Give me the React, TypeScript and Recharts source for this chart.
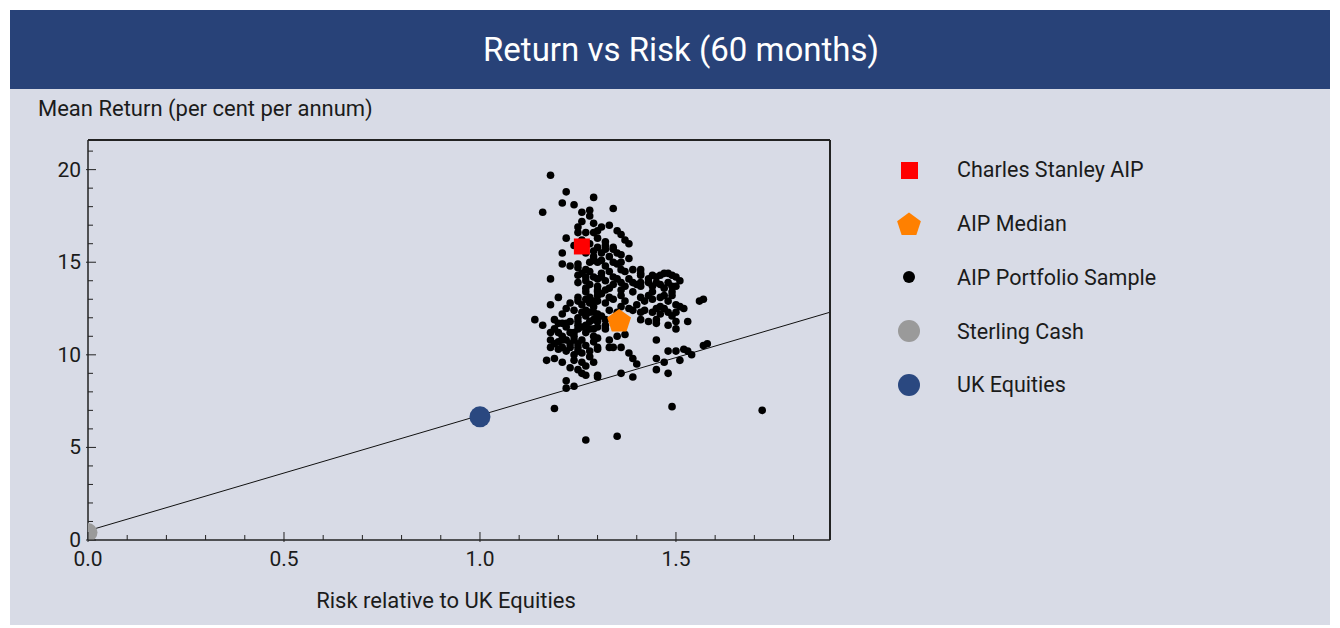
import {
  Legend,
  ReferenceLine,
  Scatter,
  ScatterChart,
  XAxis,
  YAxis,
} from "recharts";

// risk relative to UK equities, mean return (% p.a.)
type Pt = [number, number];

const sampleUpper: Pt[] = [
  [1.18, 19.7], [1.22, 18.8], [1.21, 18.2], [1.24, 18.1], [1.16, 17.7], [1.29, 18.5], [1.34, 17.9],
  [1.26, 17.7], [1.28, 17.8], [1.26, 17.2], [1.28, 17.5], [1.29, 17.1], [1.33, 17.0], [1.31, 16.9],
  [1.25, 16.9], [1.25, 16.6], [1.35, 16.7], [1.36, 16.5], [1.22, 16.3], [1.30, 16.3], [1.32, 16.1],
  [1.37, 16.2], [1.38, 16.0], [1.24, 15.9], [1.21, 15.5], [1.27, 16.6], [1.29, 16.6], [1.30, 16.7],
  [1.30, 15.8], [1.32, 15.7], [1.34, 15.7], [1.35, 15.5], [1.32, 15.9], [1.34, 15.8],
  [1.29, 15.3], [1.31, 15.1], [1.33, 15.3], [1.36, 15.4], [1.38, 15.2], [1.34, 15.0], [1.36, 15.0],
  [1.29, 15.1], [1.30, 15.0], [1.32, 14.8], [1.35, 14.9], [1.36, 14.6], [1.37, 14.5],
  [1.23, 14.8], [1.25, 14.7], [1.28, 14.5], [1.25, 14.9], [1.21, 14.9],
  [1.39, 14.6], [1.41, 14.6], [1.41, 14.4], [1.18, 14.1],
  [1.25, 14.3], [1.27, 14.2], [1.29, 14.2], [1.27, 14.0], [1.30, 14.1], [1.31, 14.2], [1.34, 14.2],
  [1.35, 14.1], [1.38, 14.1], [1.41, 14.3], [1.43, 14.1], [1.45, 14.2], [1.47, 14.4], [1.48, 14.4],
  [1.50, 14.2], [1.49, 14.3], [1.51, 14.0],
  [1.26, 16.2], [1.27, 15.5], [1.28, 15.0], [1.27, 14.6], [1.26, 14.4], [1.28, 16.0], [1.29, 15.6],
  [1.31, 15.5], [1.33, 14.5], [1.31, 14.4], [1.32, 14.0], [1.46, 14.3], [1.44, 14.3],
];

const sampleMiddle: Pt[] = [
  [1.45, 13.9], [1.46, 13.8], [1.48, 13.9], [1.49, 13.7], [1.40, 13.8], [1.41, 13.7], [1.41, 13.9],
  [1.25, 13.9], [1.27, 13.6], [1.30, 13.7], [1.34, 13.8], [1.28, 13.8], [1.36, 13.9], [1.43, 13.9], [1.50, 13.7],
  [1.27, 13.4], [1.30, 13.4], [1.32, 13.5], [1.36, 13.5], [1.39, 13.4], [1.44, 13.4], [1.47, 13.2], [1.49, 13.4],
  [1.20, 13.1], [1.25, 13.1], [1.28, 13.1], [1.30, 13.2], [1.33, 13.1], [1.36, 13.2], [1.41, 13.1],
  [1.43, 13.2], [1.46, 13.1], [1.49, 13.2], [1.57, 13.0], [1.56, 12.9],
  [1.18, 12.7], [1.22, 12.5], [1.24, 12.4], [1.25, 12.9], [1.27, 13.0], [1.26, 12.7], [1.28, 12.8],
  [1.30, 12.9], [1.32, 12.8], [1.34, 13.0], [1.37, 12.9], [1.40, 12.7], [1.42, 12.9], [1.44, 13.0],
  [1.46, 12.6], [1.48, 12.9], [1.50, 12.7], [1.52, 12.5], [1.51, 12.6],
  [1.26, 12.3], [1.27, 12.4], [1.28, 12.3], [1.29, 12.3], [1.30, 12.2], [1.31, 12.1], [1.30, 12.0], [1.32, 11.9],
  [1.39, 12.4], [1.41, 12.3], [1.44, 12.3], [1.46, 12.2], [1.48, 12.3], [1.50, 12.3],
  [1.14, 11.9], [1.19, 11.9], [1.21, 11.7], [1.23, 11.8], [1.25, 12.0], [1.22, 11.7], [1.25, 11.8],
  [1.27, 11.6], [1.30, 11.8], [1.41, 11.9], [1.43, 11.8], [1.45, 11.9], [1.45, 11.7], [1.48, 11.6],
  [1.50, 11.8], [1.53, 11.8], [1.16, 11.6], [1.18, 11.2], [1.19, 11.4], [1.22, 11.5], [1.24, 11.2],
  [1.26, 11.5], [1.28, 11.4], [1.30, 11.5], [1.32, 11.6], [1.20, 11.2], [1.23, 11.2], [1.25, 11.4],
  [1.27, 11.2], [1.29, 11.4], [1.32, 11.4], [1.37, 11.1], [1.50, 11.4],
  [1.30, 13.5], [1.29, 12.6], [1.27, 12.1], [1.25, 11.6], [1.28, 11.8], [1.29, 11.9], [1.33, 12.4],
  [1.35, 12.3], [1.36, 12.6], [1.38, 12.5], [1.42, 12.4], [1.45, 12.5], [1.47, 12.5], [1.49, 12.1],
  [1.47, 13.6], [1.44, 13.7], [1.39, 13.9], [1.37, 13.7], [1.33, 13.6], [1.31, 13.3], [1.29, 12.9],
  [1.23, 12.8], [1.21, 12.2], [1.20, 11.7],
];

const sampleLower: Pt[] = [
  [1.18, 10.8], [1.20, 10.7], [1.22, 10.8], [1.25, 10.6], [1.26, 10.8], [1.29, 11.0], [1.30, 10.9],
  [1.33, 10.8], [1.35, 11.0], [1.21, 10.8], [1.24, 10.8], [1.29, 10.7], [1.45, 10.8],
  [1.18, 10.4], [1.21, 10.4], [1.25, 10.4], [1.30, 10.4], [1.33, 10.4],
  [1.20, 10.3], [1.23, 10.4], [1.25, 10.2], [1.28, 10.2], [1.30, 10.3], [1.34, 10.4],
  [1.36, 10.4], [1.38, 10.1], [1.39, 9.8],
  [1.57, 10.5], [1.58, 10.6], [1.48, 10.2], [1.50, 10.2], [1.52, 10.3], [1.53, 10.2], [1.54, 10.0], [1.51, 9.7],
  [1.17, 9.7], [1.19, 9.8], [1.21, 9.6], [1.24, 9.7], [1.26, 9.6], [1.29, 9.6],
  [1.45, 9.8], [1.47, 9.6], [1.40, 9.5],
  [1.23, 9.3], [1.25, 9.2], [1.27, 8.9], [1.30, 8.9], [1.30, 8.8],
  [1.36, 9.0], [1.39, 8.8], [1.45, 9.2], [1.48, 9.0],
  [1.22, 8.6], [1.22, 8.2], [1.24, 8.3],
  [1.21, 11.0], [1.19, 10.6], [1.24, 11.0], [1.23, 10.6], [1.26, 10.1], [1.28, 9.9], [1.27, 9.4],
  [1.26, 9.0], [1.24, 10.0], [1.22, 10.2], [1.27, 10.5],
  [1.19, 7.1], [1.49, 7.2], [1.72, 7.0], [1.27, 5.4], [1.35, 5.6],
];

const csAip: Pt[] = [[1.26, 15.85]];
const aipMedian: Pt[] = [[1.355, 11.8]];
const sterlingCash: Pt[] = [[0, 0.4]];
const ukEquities: Pt[] = [[1.0, 6.65]];
const marketLine: Pt[] = [[0, 0.5], [1.893, 12.3]];

const xTicks = [0, 0.1, 0.2, 0.3, 0.4, 0.5, 0.6, 0.7, 0.8, 0.9, 1.0, 1.1, 1.2, 1.3, 1.4, 1.5, 1.6, 1.7, 1.8];
const yTicks = [0, 1, 2, 3, 4, 5, 6, 7, 8, 9, 10, 11, 12, 13, 14, 15, 16, 17, 18, 19, 20, 21];

const legendItems = [
  { name: "Charles Stanley AIP", icon: "square" },
  { name: "AIP Median", icon: "pentagon" },
  { name: "AIP Portfolio Sample", icon: "dot" },
  { name: "Sterling Cash", icon: "cash" },
  { name: "UK Equities", icon: "equity" },
];

const NAVY = "#284278";
const PANEL = "#d8dbe6";
const INK = "#1b1b1b";
const AXIS = "#222";
const RED = "#ff0000";
const ORANGE = "#ff8000";
const GREY = "#9a9a9a";
const BLUE = "#2a4880";
const FONT = "Roboto, 'Liberation Sans', sans-serif";

const X_MAX = 1.893;
const Y_MAX = 21.6;

const toRows = (pts: Pt[]) => pts.map(([risk, ret]) => ({ risk, ret }));
const samples = toRows([...sampleUpper, ...sampleMiddle, ...sampleLower]);

const isMajorX = (v: number) => Math.abs(v * 2 - Math.round(v * 2)) < 1e-6;

const BottomTick = (props: any) => {
  const { x, y, payload } = props;
  const v = payload.value as number;
  const major = isMajorX(v);
  return (
    <g>
      <line x1={x} x2={x} y1={y + (major ? 2 : 0)} y2={y - (major ? 8 : 5)} stroke={AXIS} />
      {major && (
        <text x={x} y={y + 26} textAnchor="middle" fontSize={21} fill={INK} fontFamily={FONT}>
          {v.toFixed(1)}
        </text>
      )}
    </g>
  );
};

const LeftTick = (props: any) => {
  const { x, y, payload } = props;
  const ax = x + 8;
  const v = payload.value as number;
  const major = v % 5 === 0;
  return (
    <g>
      <line x1={ax - (major ? 2 : 0)} x2={ax + (major ? 8 : 5)} y1={y} y2={y} stroke={AXIS} />
      {major && (
        <text x={ax - 7} y={y + 7} textAnchor="end" fontSize={21} fill={INK} fontFamily={FONT}>
          {v}
        </text>
      )}
    </g>
  );
};

const RightTick = (props: any) => {
  const { x, y, payload } = props;
  const major = (payload.value as number) % 5 === 0;
  return <line x1={x} x2={x - (major ? 8 : 5)} y1={y} y2={y} stroke={AXIS} />;
};

const circle = (r: number, fill: string) => (p: any) =>
  <circle cx={p.cx} cy={p.cy} r={r} fill={fill} />;

const squareShape = (p: any) => <rect x={p.cx - 8} y={p.cy - 8} width={16} height={16} fill={RED} />;

const pentagonPoints = (cx: number, cy: number, r: number) =>
  [0, 1, 2, 3, 4]
    .map((i) => {
      const a = (-90 + i * 72) * (Math.PI / 180);
      return `${cx + r * Math.cos(a)},${cy + r * Math.sin(a)}`;
    })
    .join(" ");

const pentagonShape = (p: any) => <polygon points={pentagonPoints(p.cx, p.cy, 12.5)} fill={ORANGE} />;

const LegendIcon = ({ icon }: { icon: string }) => (
  <svg width={38} height={26}>
    {icon === "square" && <rect x={11} y={5} width={17} height={17} fill={RED} />}
    {icon === "pentagon" && <polygon points={pentagonPoints(19, 14, 12.5)} fill={ORANGE} />}
    {icon === "dot" && <circle cx={19} cy={13} r={6} fill="#000" />}
    {icon === "cash" && <circle cx={19} cy={13} r={11} fill={GREY} />}
    {icon === "equity" && <circle cx={19} cy={13} r={11} fill={BLUE} />}
  </svg>
);

const renderLegend = () => (
  <div style={{ fontFamily: FONT, fontSize: 21.5, color: INK }}>
    {legendItems.map((item) => (
      <div key={item.name} style={{ height: 53.75, display: "flex", alignItems: "center" }}>
        <LegendIcon icon={item.icon} />
        <span style={{ marginLeft: 29 }}>{item.name}</span>
      </div>
    ))}
  </div>
);

export default function App() {
  return (
    <div style={{ marginLeft: 2, marginTop: 2, width: 1320, fontFamily: FONT }}>
      <div
        style={{
          height: 79,
          background: NAVY,
          color: "#fff",
          fontSize: 33,
          display: "flex",
          alignItems: "center",
          justifyContent: "center",
          paddingLeft: 22,
          boxSizing: "border-box",
        }}
      >
        Return vs Risk (60 months)
      </div>
      <div style={{ position: "relative", height: 536, background: PANEL }}>
        <div style={{ position: "absolute", left: 28, top: 7, fontSize: 22, color: INK, zIndex: 1 }}>
          Mean Return (per cent per annum)
        </div>
        <ScatterChart width={1320} height={536} margin={{ top: 50, right: 490, bottom: 0, left: 0 }}>
          <XAxis
            type="number"
            dataKey="risk"
            domain={[0, X_MAX]}
            ticks={xTicks}
            interval={0}
            allowDataOverflow
            height={85}
            tickSize={0}
            tickMargin={0}
            tickLine={false}
            tick={BottomTick}
            axisLine={{ stroke: AXIS, strokeWidth: 1.5 }}
            label={{
              value: "Risk relative to UK Equities",
              position: "insideBottom",
              offset: 17,
              dx: -13,
              fontSize: 22,
              fill: INK,
              fontFamily: FONT,
            }}
          />
          <XAxis
            xAxisId="top"
            orientation="top"
            type="number"
            domain={[0, X_MAX]}
            height={1}
            tick={false}
            tickLine={false}
            axisLine={{ stroke: AXIS, strokeWidth: 2 }}
          />
          <YAxis
            type="number"
            dataKey="ret"
            domain={[0, Y_MAX]}
            ticks={yTicks}
            interval={0}
            allowDataOverflow
            width={78}
            tickSize={0}
            tickMargin={8}
            tickLine={false}
            tick={LeftTick}
            axisLine={{ stroke: AXIS, strokeWidth: 1.5 }}
          />
          <YAxis
            yAxisId="right"
            orientation="right"
            type="number"
            domain={[0, Y_MAX]}
            ticks={yTicks}
            interval={0}
            width={10}
            tickSize={0}
            tickMargin={0}
            tickLine={false}
            tick={RightTick}
            axisLine={{ stroke: AXIS, strokeWidth: 2 }}
          />
          <ReferenceLine
            segment={marketLine.map(([x, y]) => ({ x, y }))}
            stroke="#111"
            strokeWidth={1}
            ifOverflow="visible"
          />
          <Scatter name="AIP Portfolio Sample" data={samples} shape={circle(3.8, "#000")} isAnimationActive={false} />
          <Scatter name="Sterling Cash" data={toRows(sterlingCash)} shape={circle(9.5, GREY)} isAnimationActive={false} />
          <Scatter name="UK Equities" data={toRows(ukEquities)} shape={circle(10.5, BLUE)} isAnimationActive={false} />
          <Scatter name="AIP Median" data={toRows(aipMedian)} shape={pentagonShape} isAnimationActive={false} />
          <Scatter name="Charles Stanley AIP" data={toRows(csAip)} shape={squareShape} isAnimationActive={false} />
          <Legend
            layout="horizontal"
            align="center"
            verticalAlign="middle"
            content={renderLegend}
            wrapperStyle={{ left: 880, top: 54, width: 420, height: 270 }}
          />
        </ScatterChart>
      </div>
    </div>
  );
}
